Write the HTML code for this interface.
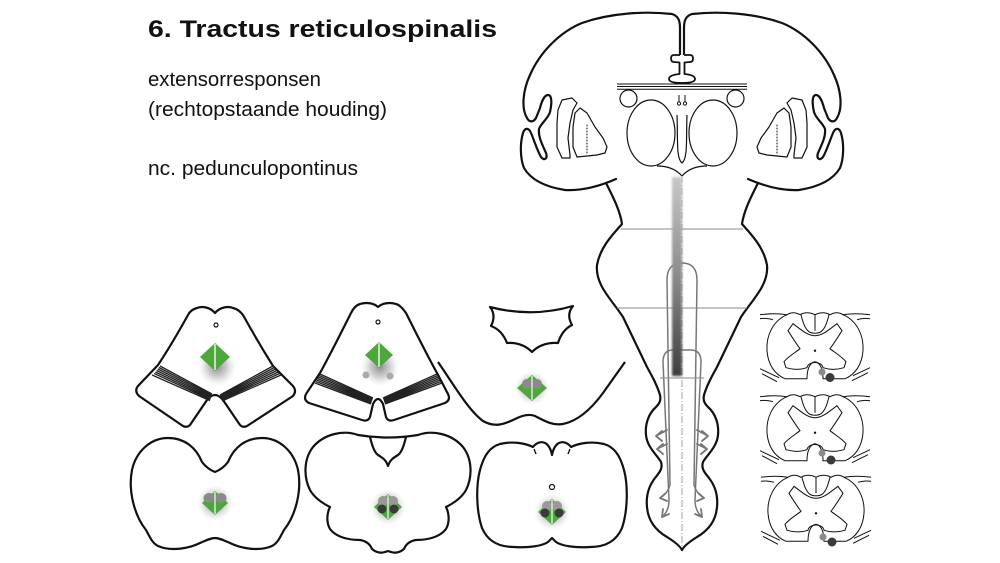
<!DOCTYPE html>
<html><head><meta charset="utf-8"><style>
html,body{margin:0;padding:0;background:#fff;}
svg{display:block;}
</style></head><body>
<svg width="1000" height="563" viewBox="0 0 1000 563" xmlns="http://www.w3.org/2000/svg">
<defs>
<radialGradient id="halo" cx="50%" cy="50%" r="50%">
<stop offset="0" stop-color="#666" stop-opacity="0.75"/>
<stop offset="0.5" stop-color="#999" stop-opacity="0.5"/>
<stop offset="1" stop-color="#ccc" stop-opacity="0"/>
</radialGradient>
<linearGradient id="bar" x1="0" y1="0" x2="0" y2="1">
<stop offset="0" stop-color="#c8c8c8"/>
<stop offset="0.5" stop-color="#8a8a8a"/>
<stop offset="1" stop-color="#3e3e3e"/>
</linearGradient>
<filter id="blur" x="-50%" y="-5%" width="200%" height="110%"><feGaussianBlur stdDeviation="1.1"/></filter>
<g id="sc" fill="none" stroke="#111" stroke-width="1">
<path d="M -28,-36 C -42,-30 -49,-15 -48,0 C -47,14 -40,24 -30,28 L -8,28 C -8,20 -6,12 0,11 C 6,12 8,20 8,28 L 30,28 C 40,24 47,14 48,0 C 49,-15 42,-30 28,-36"/>
<path d="M -55,-36 Q -40,-38 -28,-36 Q -22,-40 -15,-36 Q -8,-40 0,-36 Q 8,-40 15,-36 Q 22,-40 28,-36 Q 40,-38 55,-36"/>
<path d="M -55,-32 Q -48,-33 -42,-31"/>
<path d="M 55,-32 Q 48,-33 42,-31"/>
<path d="M -14,-36 C -12,-28 -10,-22 -6,-19 C -3,-17 3,-17 6,-19 C 10,-22 12,-28 14,-36"/>
<path d="M 0,-36 L 0,-20"/>
<path d="M 0,-15 C -8,-15 -15,-22 -22,-27 L -27,-20 C -22,-12 -18,-6 -15,-2 C -20,2 -27,6 -31,11 L -29,17 C -22,19 -14,19 -8,17 C -7,10 7,10 8,17 C 14,19 22,19 29,17 L 31,11 C 27,6 20,2 15,-2 C 18,-6 22,-12 27,-20 L 22,-27 C 15,-22 8,-15 0,-15 Z"/>
<path d="M -55,18 L -36,27 M -53,23 L -38,31"/>
<path d="M 55,17 L 38,25 M 53,22 L 37,30"/>
<circle cx="0" cy="0" r="1.2" fill="#111" stroke="none"/>
</g>
</defs>

<!-- TEXT -->
<text x="148" y="37" font-family="Liberation Sans, sans-serif" font-weight="bold" font-size="24" fill="#111" textLength="349" lengthAdjust="spacingAndGlyphs">6. Tractus reticulospinalis</text>
<text x="148" y="86" font-family="Liberation Sans, sans-serif" font-size="20" fill="#111" textLength="173" lengthAdjust="spacingAndGlyphs">extensorresponsen</text>
<text x="148" y="116" font-family="Liberation Sans, sans-serif" font-size="20" fill="#111" textLength="239" lengthAdjust="spacingAndGlyphs">(rechtopstaande houding)</text>
<text x="148" y="175" font-family="Liberation Sans, sans-serif" font-size="20" fill="#111" textLength="210" lengthAdjust="spacingAndGlyphs">nc. pedunculopontinus</text>

<!-- TOP BRAIN -->
<g id="lefthalf" fill="none" stroke="#111" stroke-linejoin="round" stroke-linecap="round">
<path stroke-width="2.2" d="M 680,55 L 680,28 C 680,20 678,16 672,14 C 645,11 610,13 582,23 C 560,32 540,52 530,75 C 523,90 521,108 527,118 C 529,122 533,123 536,118 L 540,108 C 542,100 545,95 548,95 C 552,95 552,103 550,112 C 548,119 541,123 539,129 C 538,137 543,146 546,153 C 548,159 544,161 541,157 C 537,150 534,140 531,133 C 529,128 525,127 523,133 C 520,143 520,158 524,168 C 531,180 546,187 565,190 C 583,191 600,186 616,179"/>
<path stroke-width="2.2" d="M 606,183 C 612,195 620,210 622,224 C 612,235 600,248 597,265 C 595,285 612,300 623,317 L 647,367 C 652,376 657,385 660,395 C 661,400 660,403 656,407 C 648,414 645,425 646,435 C 647,447 657,455 661,462 C 663,468 660,472 655,478 C 648,487 646,497 647,507 C 648,520 655,530 667,537 C 675,542 680,546 682,550"/>
<path stroke-width="1.2" d="M 562,100 L 572,98 L 577,103 L 573,110 L 570,123 L 568,138 L 570,155 L 570,158 L 562,158 L 557,147 L 557,123 L 558,110 Z"/>
<path stroke-width="1.2" d="M 580,108 L 587,113 L 595,127 L 603,138 L 607,147 L 605,153 L 597,155 L 577,157 L 573,147 L 573,127 L 575,113 Z"/>
<path stroke-width="1" stroke-dasharray="1 2" d="M 587,125 L 587,155"/>
<circle cx="628.5" cy="98.5" r="8.5" stroke-width="1.2"/>
<ellipse cx="651" cy="133" rx="24" ry="33" stroke-width="1.2"/>
<!-- tract lines -->
<path stroke="#777" stroke-width="1.5" d="M 682,263 Q 667,263 667,280 L 670,485 Q 668,493 660,498"/>
<path stroke="#777" stroke-width="1.5" d="M 682,350 L 673,350 Q 663,350 663,362 L 669,500 Q 669,511 662,517"/>
<path stroke="#777" stroke-width="1.8" d="M 667,430 L 656,436 M 662,431 L 656,436 L 662,441 M 667,444 L 657,449 M 663,444 L 657,449 L 663,454 M 660,498 L 666,493 M 660,498 L 667,501 M 662,517 L 663,509 M 662,517 L 669,514"/>
</g>
<use href="#lefthalf" transform="translate(1364,0) scale(-1,1)"/>

<g fill="none" stroke="#111" stroke-linejoin="round">
<path fill="#fff" stroke-width="1.8" d="M 680,55 L 674,55 Q 671,55 671,58.5 Q 671,62 674,62 L 679.5,62.5 L 679.5,74 Q 669,75 669,79 Q 669,83 682,83 Q 695,83 695,79 Q 695,75 684.5,74 L 684.5,62.5 L 690,62 Q 693,62 693,58.5 Q 693,55 690,55 L 684,55"/>
<path stroke-width="1" d="M 617,84 L 747,84 M 617,86.5 L 747,86.5 M 617,89.3 L 747,89.3"/>
<path stroke-width="1.2" d="M 677,115 C 678,140 676,158 682,163 C 688,158 686,140 687,115"/>
<path stroke-width="1.2" d="M 657,166 C 665,166 675,168 682,176 C 689,168 699,166 707,166"/>
<path stroke-width="1" d="M 679,95 L 679,102 M 685,95 L 685,102"/>
<circle cx="679" cy="103.5" r="1.6" stroke-width="1"/>
<circle cx="685" cy="103.5" r="1.6" stroke-width="1"/>
</g>

<!-- brainstem guide lines -->
<g stroke="#8a8a8a" stroke-width="0.9" fill="none">
<path d="M 621,229 L 743,229"/>
<path d="M 617,308 L 747,308"/>
<path d="M 660,378 L 704,378"/>
<path d="M 682,176 L 682,548" stroke="#999" stroke-dasharray="7 2 1 2"/>
</g>
<rect x="672" y="177" width="10" height="199" fill="url(#bar)" filter="url(#blur)"/>

<!-- ROW 1 SECTIONS -->
<g fill="none" stroke="#111" stroke-width="2.2" stroke-linejoin="round">
<path d="M 215,313 C 210,307 202,306 197,308 C 193,309 190,311 188,315 C 178,333 168,350 158,365 L 138,386 Q 134,391 139,396 L 183,426 Q 187,428 190,425 L 207,400 Q 215,390 223,400 L 240,425 Q 243,428 247,426 L 293,396 Q 297,391 293,386 L 273,366 C 263,350 253,333 243,315 C 240,311 237,309 233,308 C 228,306 220,307 215,313 Z"/>
<path d="M 378,307 C 374,303 366,302 360,304 C 356,305 353,309 351,313 C 340,335 330,355 320,373 L 306,394 Q 303,400 309,403 L 362,420 Q 368,422 370,417 L 373,404 Q 378,394 383,404 L 386,417 Q 388,422 394,420 L 445,403 Q 451,400 448,394 L 437,373 C 427,355 417,335 406,313 C 403,309 400,305 396,304 C 390,302 382,303 378,307 Z"/>
<path d="M 490,307 Q 532,318 573,306 C 568,312 568,318 572,325 Q 562,330 558,343 Q 542,342 532,352 Q 522,342 507,343 Q 502,330 491,326 C 495,318 494,312 490,307 Z"/>
<path d="M 438,362 C 452,382 468,410 483,421 C 495,428 505,424 515,419 C 523,415 530,414 535,416 C 543,420 552,426 563,424 C 578,421 592,408 603,393 L 625,362"/>
</g>
<!-- bands -->
<g stroke="#222" stroke-width="1.3">
<path d="M 160,366 L 212,394 M 158.9,367.5 L 211.7,395.1 M 157.8,369 L 211.3,396.2 M 156.6,370.5 L 211,397.3 M 155.4,372 L 210.7,398.4 M 154.2,373.5 L 210.3,399.5 M 152,375 L 210,400.6"/>
<path d="M 220,395 L 273,366 M 220.3,396 L 274.3,367.5 M 220.6,397 L 275.6,369 M 221,398 L 276.9,370.5 M 221.3,399 L 278.2,372 M 221.6,400 L 279.5,373.5 M 222,401 L 281,375"/>
<path d="M 320,374 L 373,398 M 319.2,375.5 L 372.7,399 M 318.4,377 L 372.3,400 M 317.6,378.5 L 372,401 M 316.8,380 L 371.7,402 M 316,381.5 L 371.3,403 M 315,383 L 371,404"/>
<path d="M 383,398 L 437,374 M 383.3,399 L 437.8,375.5 M 383.7,400 L 438.6,377 M 384,401 L 439.4,378.5 M 384.3,402 L 440.2,380 M 384.7,403 L 441,381.5 M 385,404 L 442,383"/>
</g>
<circle cx="216" cy="325" r="2" fill="none" stroke="#111" stroke-width="1.2"/>
<circle cx="378" cy="322" r="2" fill="none" stroke="#111" stroke-width="1.2"/>

<!-- halos & diamonds row 1 -->
<circle cx="217" cy="367" r="19" fill="url(#halo)"/>
<polygon points="215,343 230,357 215,371 200,357" fill="#4da83c"/>
<line x1="215" y1="344" x2="215" y2="370" stroke="#e4ece0" stroke-width="1.6"/>

<circle cx="380" cy="367" r="19" fill="url(#halo)"/>
<polygon points="379,342 393,355 379,368 365,355" fill="#4da83c"/>
<line x1="379" y1="343" x2="379" y2="367" stroke="#e4ece0" stroke-width="1.6"/>
<circle cx="366" cy="375" r="3.5" fill="#aaa"/>
<circle cx="390" cy="376" r="3.5" fill="#aaa"/>

<circle cx="532" cy="388" r="17" fill="url(#halo)"/>
<polygon points="532,375 547,388 532,401 517,388" fill="#4da83c"/>
<circle cx="527" cy="384" r="5" fill="#8a8a8a"/>
<circle cx="537" cy="384" r="5" fill="#8a8a8a"/>
<line x1="532" y1="376" x2="532" y2="400" stroke="#e4ece0" stroke-width="1.4"/>

<!-- ROW 2 SECTIONS -->
<g fill="none" stroke="#111" stroke-width="2.2" stroke-linejoin="round">
<path d="M 215,472 C 210,470 205,466 202,462 C 196,447 184,438 168,438 C 150,438 136,452 132,470 C 128,490 134,515 146,530 C 150,537 152,543 158,546 C 172,552 190,548 200,543 C 207,540 211,538 215,538 C 219,538 223,540 230,543 C 240,548 258,552 272,546 C 278,543 280,537 284,530 C 296,515 302,490 298,470 C 294,452 280,438 262,438 C 246,438 234,447 228,462 C 225,466 220,470 215,472 Z"/>
<path d="M 358,435 C 345,430 325,433 313,447 C 303,460 304,478 310,490 C 314,497 322,503 330,507 C 327,513 326,522 330,529 C 336,537 348,540 360,540 C 366,541 370,544 372,549 C 378,554 383,553 388,551 C 393,553 398,554 404,549 C 406,544 410,541 416,540 C 428,540 440,537 446,529 C 450,522 449,513 446,507 C 454,503 462,497 466,490 C 472,478 473,460 463,447 C 451,433 431,430 418,435 Q 388,440 358,435 Z"/>
<path d="M 370,437 C 372,445 374,452 378,455 C 383,458 386,460 388,466 C 390,460 393,458 398,455 C 402,452 404,445 406,437"/>
<path d="M 480,470 C 484,455 490,447 500,444 C 512,441 525,443 533,447 C 536,443 541,441 545,443 C 549,445 551,450 552,455 C 553,450 555,445 559,443 C 563,441 568,443 571,447 C 579,443 592,441 604,444 C 614,447 620,455 624,470 C 628,485 628,510 622,528 C 616,542 604,547 590,547 C 575,548 562,546 556,542 C 554,540 553,539 552,538 C 551,539 550,540 548,542 C 542,546 529,548 514,547 C 500,547 488,542 482,528 C 476,510 476,485 480,470 Z"/>
<path stroke-width="1.4" d="M 534,449 L 536,454 M 570,449 L 568,454"/>
</g>
<circle cx="552" cy="487" r="2.5" fill="none" stroke="#111" stroke-width="1.2"/>

<circle cx="215" cy="503" r="18" fill="url(#halo)"/>
<polygon points="215,491 228,503 215,515 202,503" fill="#4da83c"/>
<ellipse cx="209" cy="498" rx="5.5" ry="5" fill="#8a8a8a"/>
<ellipse cx="221" cy="498" rx="5.5" ry="5" fill="#8a8a8a"/>
<line x1="215" y1="492" x2="215" y2="514" stroke="#e4ece0" stroke-width="1.4"/>

<circle cx="388" cy="507" r="18" fill="url(#halo)"/>
<polygon points="388,494 402,507 388,520 374,507" fill="#4da83c"/>
<ellipse cx="383" cy="501" rx="5" ry="5" fill="#999"/>
<ellipse cx="393" cy="501" rx="5" ry="5" fill="#999"/>
<line x1="388" y1="495" x2="388" y2="519" stroke="#e4ece0" stroke-width="1.4"/>
<circle cx="382" cy="509" r="4.5" fill="#3a3a3a"/>
<circle cx="394" cy="509" r="4.5" fill="#3a3a3a"/>

<circle cx="552" cy="512" r="18" fill="url(#halo)"/>
<polygon points="552,499 566,512 552,525 538,512" fill="#4da83c"/>
<ellipse cx="547" cy="506" rx="5" ry="5" fill="#999"/>
<ellipse cx="557" cy="506" rx="5" ry="5" fill="#999"/>
<line x1="552" y1="500" x2="552" y2="524" stroke="#e4ece0" stroke-width="1.4"/>
<circle cx="545" cy="513" r="4.5" fill="#3a3a3a"/>
<circle cx="559" cy="513" r="4.5" fill="#3a3a3a"/>

<!-- SPINAL CORD SECTIONS -->
<use href="#sc" transform="translate(815,350.7)"/>
<use href="#sc" transform="translate(815,432.7)"/>
<use href="#sc" transform="translate(816,513.3)"/>
<circle cx="822" cy="372" r="3.5" fill="#8a8a8a"/>
<circle cx="830" cy="377.5" r="4.5" fill="#3a3a3a"/>
<circle cx="822" cy="453" r="3.5" fill="#8a8a8a"/>
<circle cx="831" cy="460" r="4.5" fill="#3a3a3a"/>
<circle cx="823" cy="537" r="3.5" fill="#8a8a8a"/>
<circle cx="832" cy="542" r="4.5" fill="#3a3a3a"/>
</svg>
</body></html>
